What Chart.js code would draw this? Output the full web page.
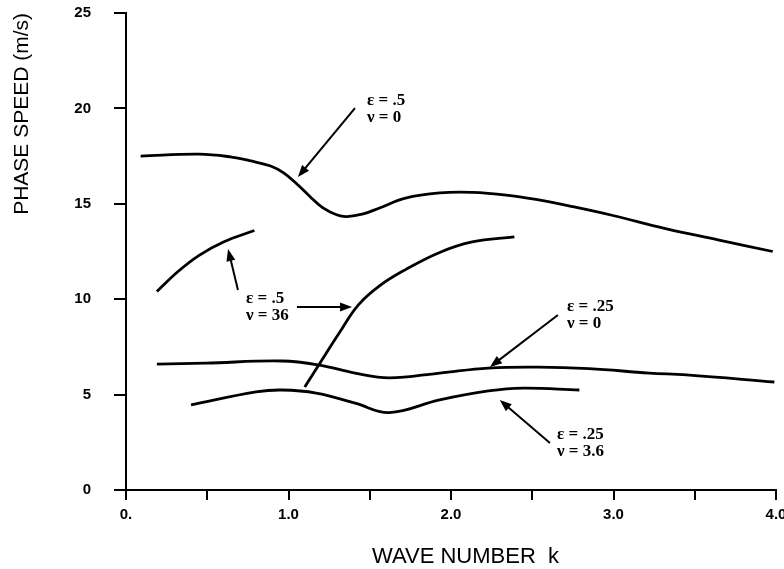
<!DOCTYPE html>
<html lang="en">
<head>
<meta charset="UTF-8" />
<title>Phase speed vs wave number</title>
<script src="https://cdn.jsdelivr.net/npm/chart.js"></script>
<style>
  html, body { margin: 0; padding: 0; background: #fff; overflow: hidden; }
  #wrap { width: 784px; height: 569px; }
</style>
</head>
<body>
<div id="wrap"><canvas id="phaseChart" width="784" height="569"></canvas></div>
<script>
  // values: wave number k, phase speed c (m/s)
  const kA = [0.09, 0.45, 0.65, 0.76, 0.89, 0.97, 1.05, 1.13, 1.21, 1.30, 1.36, 1.46, 1.56, 1.72, 1.93, 2.13, 2.34, 2.54, 2.75, 2.99, 3.32, 3.65, 3.98];
  const cA = [17.5, 17.6, 17.45, 17.26, 16.98, 16.62, 16.05, 15.4, 14.8, 14.41, 14.33, 14.47, 14.78, 15.3, 15.57, 15.6, 15.46, 15.2, 14.85, 14.4, 13.7, 13.1, 12.5];

  const kB = [0.19, 0.32, 0.45, 0.60, 0.79];
  const cB = [10.4, 11.45, 12.3, 13.0, 13.6];

  const kC = [1.10, 1.19, 1.31, 1.43, 1.56, 1.72, 1.93, 2.13, 2.39];
  const cC = [5.4, 6.6, 8.2, 9.7, 10.7, 11.55, 12.45, 13.0, 13.27];

  const kD = [0.19, 0.49, 0.96, 1.19, 1.41, 1.62, 1.93, 2.23, 2.54, 2.85, 3.22, 3.45, 3.99];
  const cD = [6.6, 6.65, 6.76, 6.55, 6.13, 5.88, 6.13, 6.39, 6.44, 6.36, 6.13, 6.03, 5.66];

  const kE = [0.40, 0.80, 0.96, 1.17, 1.41, 1.62, 1.93, 2.23, 2.44, 2.79];
  const cE = [4.46, 5.14, 5.24, 5.08, 4.55, 4.06, 4.72, 5.19, 5.34, 5.24];

  const xTickLabels = ['0.', '1.0', '2.0', '3.0', '4.0'];
  const yTickLabels = ['0', '5', '10', '15', '20', '25'];
  const seriesNames = ['ε = .5, ν = 0', 'ε = .5, ν = 36', 'ε = .5, ν = 36 ', 'ε = .25, ν = 0', 'ε = .25, ν = 3.6'];

  const zip = (ks, cs) => ks.map((k, i) => ({ x: k, y: cs[i] }));
  const curves = [[kA, cA], [kB, cB], [kC, cC], [kD, cD], [kE, cE]];

  // curve labels, placed in data units (k, c)
  const notes = [
    { lines: ['ε = .5', 'ν = 0'], at: [1.483, 20.39], arrows: [[[1.409, 20.02], [1.058, 16.4]]] },
    { lines: ['ε = .5', 'ν = 36'], at: [0.738, 10.01], arrows: [[[0.689, 10.48], [0.628, 12.63]], [[1.052, 9.59], [1.391, 9.59]]] },
    { lines: ['ε = .25', 'ν = 0'], at: [2.714, 9.59], arrows: [[[2.658, 9.17], [2.24, 6.45]]] },
    { lines: ['ε = .25', 'ν = 3.6'], at: [2.652, 2.88], arrows: [[[2.609, 2.46], [2.30, 4.72]]] }
  ];

  function arrow(ctx, x0, y0, x1, y1) {
    const a = Math.atan2(y1 - y0, x1 - x0);
    const len = 12, half = 4.5;
    ctx.beginPath();
    ctx.moveTo(x0, y0);
    ctx.lineTo(x1 - Math.cos(a) * len * 0.8, y1 - Math.sin(a) * len * 0.8);
    ctx.stroke();
    ctx.beginPath();
    ctx.moveTo(x1, y1);
    ctx.lineTo(x1 - Math.cos(a) * len - Math.sin(a) * half, y1 - Math.sin(a) * len + Math.cos(a) * half);
    ctx.lineTo(x1 - Math.cos(a) * len + Math.sin(a) * half, y1 - Math.sin(a) * len - Math.cos(a) * half);
    ctx.closePath();
    ctx.fill();
  }

  const notesPlugin = {
    id: 'notes',
    afterDatasetsDraw(chart) {
      const { ctx, scales: { x, y } } = chart;
      ctx.save();
      ctx.fillStyle = '#000';
      ctx.strokeStyle = '#000';
      ctx.lineWidth = 2;
      ctx.font = 'bold 17px "Liberation Serif", "Times New Roman", serif';
      ctx.textBaseline = 'middle';
      ctx.textAlign = 'left';
      notes.forEach(n => {
        const px = x.getPixelForValue(n.at[0]);
        const py = y.getPixelForValue(n.at[1]);
        n.lines.forEach((t, i) => ctx.fillText(t, px, py + i * 17));
        n.arrows.forEach(([p0, p1]) => {
          arrow(ctx, x.getPixelForValue(p0[0]), y.getPixelForValue(p0[1]),
                     x.getPixelForValue(p1[0]), y.getPixelForValue(p1[1]));
        });
      });
      // x axis title
      ctx.font = '22px "Liberation Sans", Arial, sans-serif';
      ctx.fillText('WAVE NUMBER  k', 372, 557);
      ctx.restore();
    }
  };

  const ctx = document.getElementById('phaseChart').getContext('2d');
  const chart = new Chart(ctx, {
    type: 'scatter',
    data: {
      datasets: curves.map(([ks, cs], i) => ({
        label: seriesNames[i],
        data: zip(ks, cs),
        showLine: true,
        borderColor: '#000',
        borderWidth: 2.8,
        pointRadius: 0,
        tension: 0.4,
        fill: false
      }))
    },
    options: {
      responsive: false,
      animation: false,
      layout: { padding: { top: 13, right: 8, left: 0, bottom: 0 } },
      plugins: {
        legend: { display: false },
        tooltip: { enabled: false }
      },
      scales: {
        x: {
          type: 'linear',
          min: 0,
          max: 4,
          ticks: {
            stepSize: 0.5,
            padding: 6,
            color: '#000',
            maxRotation: 0,
            autoSkip: false,
            font: { family: '"Liberation Sans", Arial, sans-serif', size: 15, weight: 'bold' },
            callback: v => Number.isInteger(v) ? xTickLabels[v] : ''
          },
          grid: { drawOnChartArea: false, drawTicks: true, tickLength: 10, color: '#000', lineWidth: 2 },
          border: { display: true, color: '#000', width: 2 },
          afterFit: s => { s.height = 79; s.paddingLeft = 0; s.paddingRight = 0; }
        },
        y: {
          min: 0,
          max: 25,
          ticks: {
            stepSize: 5,
            padding: 23,
            color: '#000',
            font: { family: '"Liberation Sans", Arial, sans-serif', size: 15, weight: 'bold' },
            callback: v => yTickLabels[v / 5]
          },
          grid: { drawOnChartArea: false, drawTicks: true, tickLength: 12, color: '#000', lineWidth: 2 },
          border: { display: true, color: '#000', width: 2 },
          title: {
            display: true,
            text: 'PHASE SPEED (m/s)',
            align: 'end',
            color: '#000',
            padding: { top: 10, bottom: 0 },
            font: { family: '"Liberation Sans", Arial, sans-serif', size: 21, weight: 'normal' }
          },
          afterFit: s => { s.width = 126; s.paddingTop = 0; s.paddingBottom = 0; }
        }
      }
    },
    plugins: [notesPlugin]
  });
</script>
</body>
</html>
